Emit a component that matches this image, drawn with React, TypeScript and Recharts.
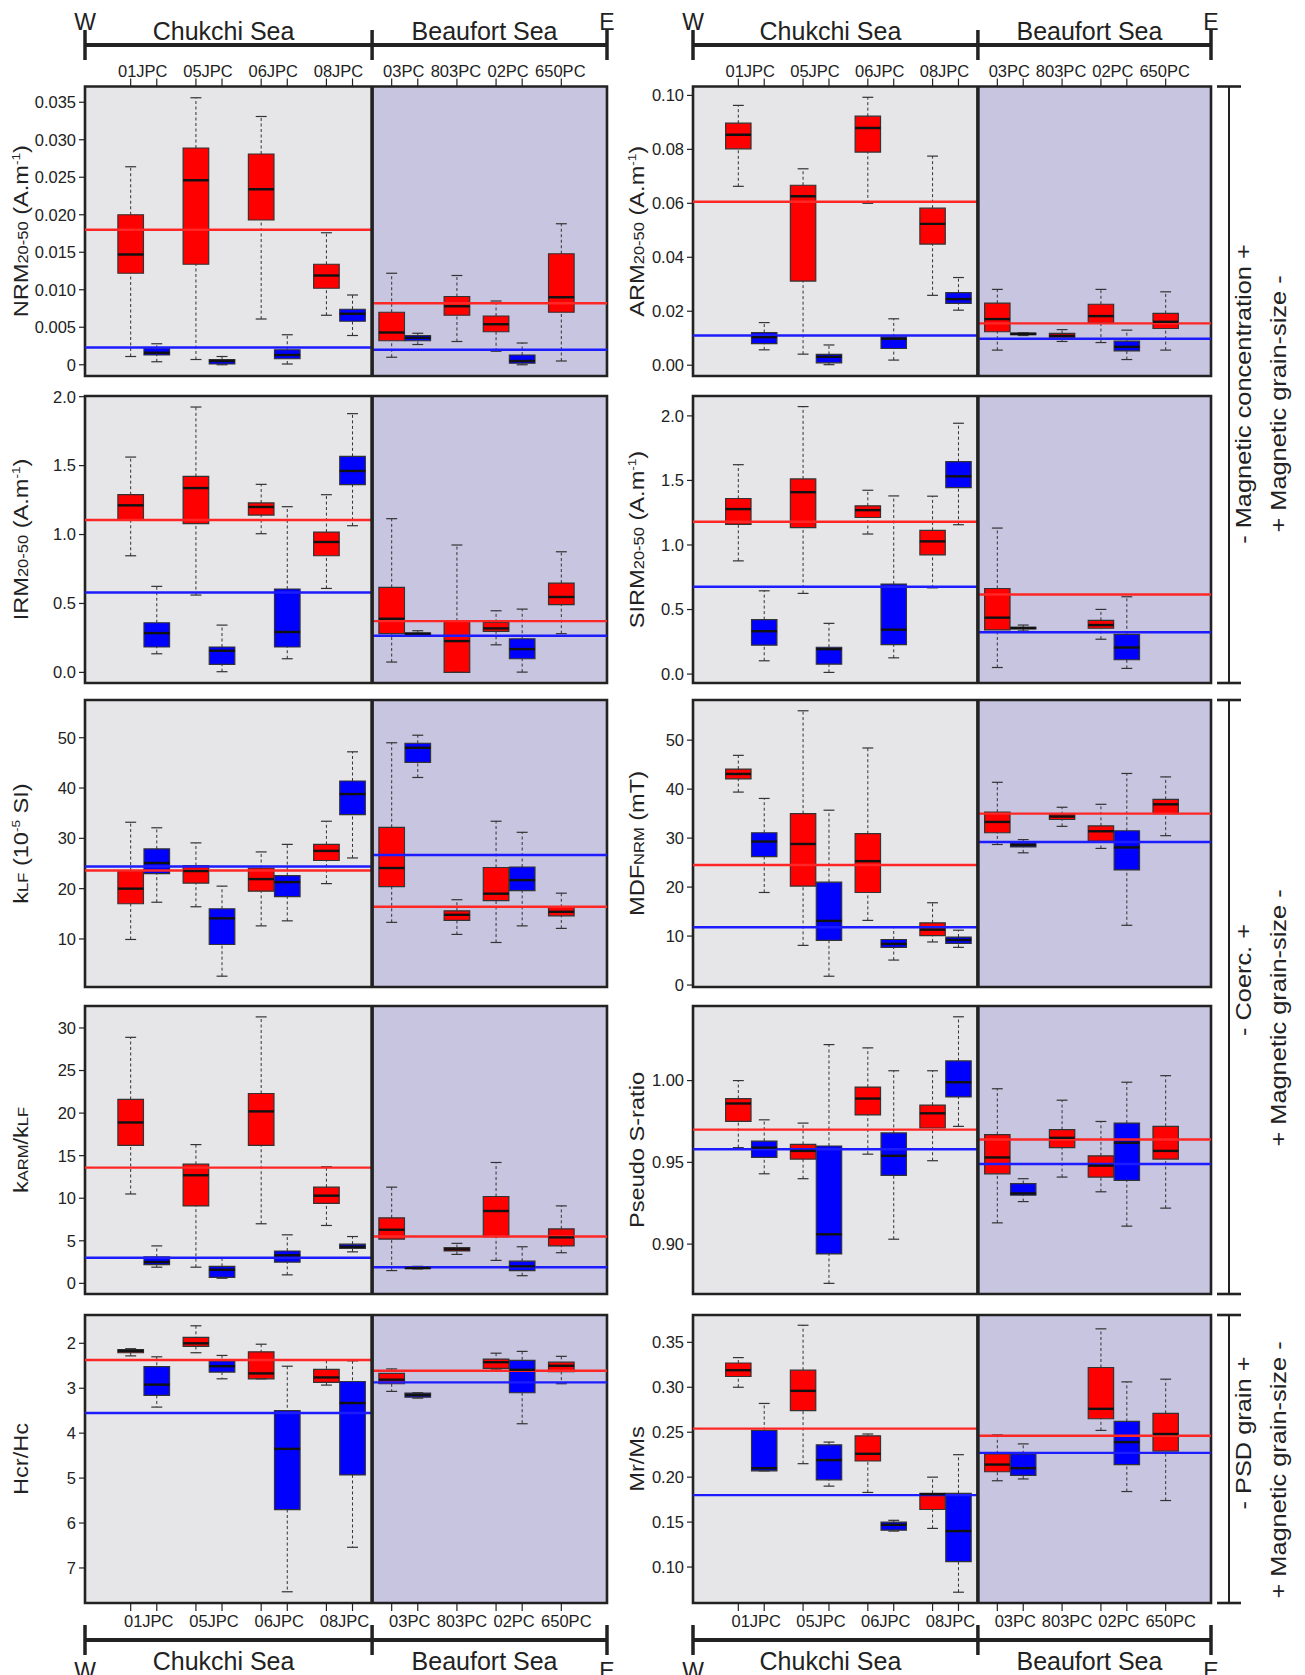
import { ComposedChart, XAxis, YAxis, Scatter, ReferenceArea, ReferenceLine, Label } from "recharts"

type Box = [number, number, number, number, number] | null
type TitlePart = [string, string?]

// cores along the W -> E transect
const cores = ["01JPC", "05JPC", "06JPC", "08JPC", "03PC", "803PC", "02PC", "650PC"]
// slot of each core's first box on the transect axis (0..20), second box sits one slot east
const corePos = [1.75, 4.25, 6.75, 9.25, 11.75, 14.25, 15.75, 18.25]
const coreTicks = [1.75, 2.75, 4.25, 5.25, 6.75, 7.75, 9.25, 10.25, 11.75, 12.75, 14.25, 15.75, 16.75, 18.25]
const seas = ["Chukchi Sea", "Beaufort Sea"]
const SPLIT = 11
const SPAN = 20

// box stats per core: [min, q1, median, q3, max]
// section means: [red Chukchi, red Beaufort, blue Chukchi, blue Beaufort]
const nrmRed: Box[] = [
  [0.0011, 0.0122, 0.0147, 0.02, 0.0264],
  [0.0007, 0.0134, 0.0246, 0.0289, 0.0356],
  [0.0061, 0.0193, 0.0234, 0.0281, 0.0331],
  [0.0066, 0.0102, 0.0119, 0.0134, 0.0176],
  [0.001, 0.0032, 0.0043, 0.007, 0.0122],
  [0.0031, 0.0066, 0.0078, 0.0091, 0.0119],
  [0.0018, 0.0044, 0.0054, 0.0065, 0.0085],
  [0.0005, 0.007, 0.009, 0.0148, 0.0188],
]
const nrmBlue: Box[] = [
  [0.0004, 0.0013, 0.0016, 0.0022, 0.0028],
  [0.0, 0.0001, 0.0005, 0.0007, 0.0011],
  [0.0001, 0.0008, 0.0013, 0.002, 0.004],
  [0.0039, 0.0058, 0.0068, 0.0074, 0.0093],
  [0.0027, 0.0032, 0.0036, 0.0039, 0.0042],
  null,
  [0.0, 0.0002, 0.0005, 0.0013, 0.0029],
  null,
]
const nrmMeans = [0.018, 0.0082, 0.0023, 0.002]
const nrmTicks = [0, 0.005, 0.01, 0.015, 0.02, 0.025, 0.03, 0.035]

const armRed: Box[] = [
  [0.0663, 0.0802, 0.0854, 0.0897, 0.0963],
  [0.0041, 0.0312, 0.0626, 0.0667, 0.0728],
  [0.06, 0.079, 0.0879, 0.0923, 0.0993],
  [0.0259, 0.0449, 0.0524, 0.0582, 0.0775],
  [0.0056, 0.0124, 0.0171, 0.023, 0.0281],
  [0.0088, 0.0101, 0.0109, 0.0118, 0.0132],
  [0.0084, 0.0158, 0.0182, 0.0226, 0.0281],
  [0.0056, 0.0136, 0.0161, 0.0192, 0.0272],
]
const armBlue: Box[] = [
  [0.0057, 0.008, 0.0104, 0.0121, 0.0158],
  [0.0002, 0.0009, 0.0031, 0.004, 0.0075],
  [0.0019, 0.0062, 0.0098, 0.0105, 0.0172],
  [0.0204, 0.0229, 0.0245, 0.0269, 0.0325],
  [0.011, 0.0113, 0.0116, 0.0119, 0.012],
  null,
  [0.0021, 0.0053, 0.0068, 0.0089, 0.013],
  null,
]
const armMeans = [0.0606, 0.0155, 0.011, 0.0098]
const armTicks = [0, 0.02, 0.04, 0.06, 0.08, 0.1]

const irmRed: Box[] = [
  [0.846, 1.108, 1.212, 1.289, 1.562],
  [0.561, 1.079, 1.337, 1.422, 1.925],
  [1.006, 1.141, 1.2, 1.229, 1.364],
  [0.609, 0.846, 0.946, 1.018, 1.289],
  [0.075, 0.281, 0.389, 0.617, 1.115],
  [0.0, 0.0, 0.227, 0.372, 0.924],
  [0.2, 0.297, 0.319, 0.363, 0.447],
  [0.281, 0.491, 0.547, 0.648, 0.875],
]
const irmBlue: Box[] = [
  [0.135, 0.184, 0.285, 0.36, 0.624],
  [0.005, 0.058, 0.157, 0.184, 0.343],
  [0.099, 0.184, 0.293, 0.605, 1.202],
  [1.064, 1.362, 1.461, 1.567, 1.877],
  [0.261, 0.266, 0.281, 0.285, 0.302],
  null,
  [0.002, 0.099, 0.169, 0.244, 0.459],
  null,
]
const irmMeans = [1.105, 0.372, 0.58, 0.266]
const irmTicks = [0, 0.5, 1, 1.5, 2]

const sirmRed: Box[] = [
  [0.877, 1.159, 1.278, 1.36, 1.622],
  [0.625, 1.134, 1.409, 1.512, 2.072],
  [1.085, 1.213, 1.27, 1.303, 1.424],
  [0.668, 0.923, 1.028, 1.113, 1.378],
  [0.051, 0.342, 0.437, 0.663, 1.131],
  null,
  [0.27, 0.355, 0.38, 0.416, 0.501],
  null,
]
const sirmBlue: Box[] = [
  [0.103, 0.224, 0.332, 0.422, 0.645],
  [0.013, 0.077, 0.193, 0.208, 0.393],
  [0.126, 0.229, 0.344, 0.697, 1.38],
  [1.157, 1.445, 1.532, 1.645, 1.943],
  [0.334, 0.35, 0.357, 0.362, 0.38],
  null,
  [0.044, 0.111, 0.206, 0.308, 0.599],
  null,
]
const sirmMeans = [1.18, 0.617, 0.676, 0.324]
const sirmTicks = [0, 0.5, 1, 1.5, 2]

const klfRed: Box[] = [
  [9.9, 17.0, 20.0, 23.6, 33.2],
  [16.4, 21.1, 23.5, 24.6, 29.1],
  [12.6, 19.5, 21.9, 24.1, 27.3],
  [21.0, 25.6, 27.5, 28.8, 33.4],
  [13.3, 20.4, 24.1, 32.2, 49.0],
  [10.9, 13.7, 14.8, 15.6, 17.8],
  [9.3, 17.6, 19.0, 24.2, 33.4],
  [12.1, 14.6, 15.4, 16.3, 19.1],
]
const klfBlue: Box[] = [
  [17.3, 23.0, 25.1, 27.9, 32.1],
  [2.6, 8.9, 14.1, 16.0, 20.5],
  [13.6, 18.4, 21.3, 22.6, 28.8],
  [26.1, 34.7, 38.8, 41.4, 47.2],
  [42.1, 45.1, 48.0, 48.9, 50.5],
  null,
  [12.6, 19.6, 21.7, 24.3, 31.2],
  null,
]
const klfMeans = [23.6, 16.4, 24.4, 26.7]
const klfTicks = [10, 20, 30, 40, 50]

const mdfRed: Box[] = [
  [39.4, 42.1, 43.1, 44.1, 46.9],
  [8.1, 20.2, 28.8, 35.0, 56.0],
  [13.2, 18.9, 25.3, 30.9, 48.4],
  [8.8, 10.1, 11.3, 12.7, 16.8],
  [28.7, 31.1, 33.3, 35.3, 41.4],
  [32.4, 33.8, 34.4, 34.8, 36.3],
  [27.9, 29.4, 31.4, 32.5, 36.9],
  [30.5, 35.0, 36.9, 37.9, 42.5],
]
const mdfBlue: Box[] = [
  [18.9, 26.2, 29.3, 31.1, 38.1],
  [1.8, 9.1, 13.1, 21.0, 35.7],
  [5.1, 7.7, 8.4, 9.3, 11.9],
  [7.7, 8.5, 9.2, 9.8, 11.2],
  [27.0, 28.2, 28.6, 29.0, 29.7],
  null,
  [12.2, 23.5, 28.1, 31.5, 43.2],
  null,
]
const mdfMeans = [24.5, 35.0, 11.8, 29.2]
const mdfTicks = [0, 10, 20, 30, 40, 50]

const karmRed: Box[] = [
  [10.5, 16.2, 18.9, 21.6, 28.9],
  [1.9, 9.1, 12.7, 14.0, 16.3],
  [7.0, 16.2, 20.2, 22.3, 31.3],
  [6.8, 9.4, 10.3, 11.3, 13.7],
  [1.5, 5.2, 6.3, 7.7, 11.3],
  [3.4, 3.8, 4.0, 4.2, 4.7],
  [2.7, 5.5, 8.5, 10.2, 14.2],
  [3.6, 4.4, 5.4, 6.4, 9.1],
]
const karmBlue: Box[] = [
  [1.9, 2.2, 2.5, 3.1, 4.4],
  [0.6, 0.7, 1.6, 2.0, 3.0],
  [1.0, 2.5, 3.3, 3.8, 5.7],
  [3.7, 4.1, 4.3, 4.6, 5.5],
  [1.7, 1.75, 1.8, 1.85, 2.0],
  null,
  [0.9, 1.5, 2.0, 2.6, 4.3],
  null,
]
const karmMeans = [13.6, 5.5, 3.0, 1.9]
const karmTicks = [0, 5, 10, 15, 20, 25, 30]

const srRed: Box[] = [
  [0.959, 0.975, 0.986, 0.989, 1.0],
  [0.94, 0.952, 0.957, 0.961, 0.974],
  [0.955, 0.979, 0.989, 0.996, 1.02],
  [0.951, 0.971, 0.98, 0.985, 1.006],
  [0.913, 0.943, 0.953, 0.967, 0.995],
  [0.941, 0.959, 0.965, 0.97, 0.988],
  [0.932, 0.941, 0.948, 0.954, 0.975],
  [0.922, 0.952, 0.957, 0.972, 1.003],
]
const srBlue: Box[] = [
  [0.943, 0.953, 0.959, 0.963, 0.976],
  [0.876, 0.894, 0.906, 0.96, 1.022],
  [0.903, 0.942, 0.954, 0.968, 1.006],
  [0.972, 0.99, 0.999, 1.012, 1.039],
  [0.926, 0.93, 0.931, 0.937, 0.94],
  null,
  [0.911, 0.939, 0.962, 0.974, 0.999],
  null,
]
const srMeans = [0.970, 0.964, 0.958, 0.949]
const srTicks = [0.9, 0.95, 1.0]

const hcrRed: Box[] = [
  [2.12, 2.14, 2.17, 2.21, 2.28],
  [1.61, 1.87, 2.0, 2.07, 2.21],
  [2.02, 2.19, 2.67, 2.79, 2.79],
  [2.38, 2.58, 2.76, 2.87, 2.93],
  [2.57, 2.67, 2.81, 2.9, 3.07],
  null,
  [2.22, 2.35, 2.42, 2.56, 2.59],
  [2.29, 2.42, 2.5, 2.63, 2.9],
]
const hcrBlue: Box[] = [
  [2.3, 2.52, 2.92, 3.16, 3.42],
  [2.27, 2.39, 2.51, 2.64, 2.79],
  [2.51, 3.5, 4.35, 5.7, 7.53],
  [2.39, 2.85, 3.33, 4.93, 6.54],
  [3.1, 3.11, 3.15, 3.2, 3.22],
  null,
  [2.18, 2.38, 2.59, 3.1, 3.79],
  null,
]
const hcrMeans = [2.37, 2.61, 3.55, 2.87]
const hcrTicks = [2, 3, 4, 5, 6, 7]

const mrmsRed: Box[] = [
  [0.3, 0.312, 0.319, 0.327, 0.333],
  [0.215, 0.274, 0.296, 0.319, 0.369],
  [0.183, 0.218, 0.226, 0.246, 0.248],
  [0.143, 0.164, 0.181, 0.182, 0.2],
  [0.196, 0.206, 0.214, 0.226, 0.247],
  null,
  [0.252, 0.265, 0.276, 0.322, 0.365],
  [0.174, 0.229, 0.248, 0.271, 0.309],
]
const mrmsBlue: Box[] = [
  [0.207, 0.207, 0.21, 0.252, 0.282],
  [0.19, 0.197, 0.219, 0.236, 0.239],
  [0.14, 0.141, 0.147, 0.15, 0.152],
  [0.072, 0.106, 0.14, 0.182, 0.225],
  [0.198, 0.202, 0.21, 0.226, 0.237],
  null,
  [0.184, 0.214, 0.239, 0.262, 0.306],
  null,
]
const mrmsMeans = [0.254, 0.246, 0.18, 0.227]
const mrmsTicks = [0.1, 0.15, 0.2, 0.25, 0.3, 0.35]

const FONT = '"Liberation Sans", Arial, Helvetica, sans-serif'
const INK = "#222"
const RED = "#ff0000"
const BLUE = "#0000ff"
const RED_MEAN = "#ff2626"
const BLUE_MEAN = "#1c1cff"
const BG = ["#e6e6e8", "#c7c5e0"]
const BOX_HALF = 0.49
const CAP_HALF = 0.21
const AXIS_H = 30
const PAD = 12
// vertical text in this figure is drawn slightly elongated along its run
const RUN_STRETCH = 1.18

const COLS = [
  { left: 0, axisW: 85, plotW: 522, titleX: 28 },
  { left: 608, axisW: 85, plotW: 518, titleX: 36 },
]
const ROWS = [
  { plotTop: 86.5, plotH: 289.5 },
  { plotTop: 396, plotH: 287 },
  { plotTop: 700, plotH: 287 },
  { plotTop: 1006, plotH: 288 },
  { plotTop: 1315, plotH: 288 },
]

const fixed = (n: number) => (v: number) => v.toFixed(n)
const amTitle = (name: string): TitlePart[] => [[name], ["20-50", "sub"], [" (A.m"], ["-1", "sup"], [")"]]

const panels = [
  { id: "nrm", col: 0, row: 0, red: nrmRed, blue: nrmBlue, means: nrmMeans, ticks: nrmTicks, domain: [-0.0015, 0.0371], fmt: (v: number) => (v === 0 ? "0" : v.toFixed(3)), title: amTitle("NRM") },
  { id: "arm", col: 1, row: 0, red: armRed, blue: armBlue, means: armMeans, ticks: armTicks, domain: [-0.004, 0.1033], fmt: fixed(2), title: amTitle("ARM") },
  { id: "irm", col: 0, row: 1, red: irmRed, blue: irmBlue, means: irmMeans, ticks: irmTicks, domain: [-0.077, 2.005], fmt: fixed(1), title: amTitle("IRM") },
  { id: "sirm", col: 1, row: 1, red: sirmRed, blue: sirmBlue, means: sirmMeans, ticks: sirmTicks, domain: [-0.069, 2.154], fmt: fixed(1), title: amTitle("SIRM") },
  { id: "klf", col: 0, row: 2, red: klfRed, blue: klfBlue, means: klfMeans, ticks: klfTicks, domain: [0.45, 57.5], fmt: String, title: [["k"], ["LF", "sub"], [" (10"], ["-5", "sup"], [" SI)"]] as TitlePart[] },
  { id: "mdf", col: 1, row: 2, red: mdfRed, blue: mdfBlue, means: mdfMeans, ticks: mdfTicks, domain: [-0.4, 58.2], fmt: String, title: [["MDF"], ["NRM", "sub"], [" (mT)"]] as TitlePart[] },
  { id: "karm", col: 0, row: 3, red: karmRed, blue: karmBlue, means: karmMeans, ticks: karmTicks, domain: [-1.25, 32.58], fmt: String, title: [["k"], ["ARM", "sub"], ["/k"], ["LF", "sub"]] as TitlePart[] },
  { id: "sr", col: 1, row: 3, red: srRed, blue: srBlue, means: srMeans, ticks: srTicks, domain: [0.8695, 1.0456], fmt: fixed(2), title: [["Pseudo S-ratio"]] as TitlePart[] },
  { id: "hcr", col: 0, row: 4, red: hcrRed, blue: hcrBlue, means: hcrMeans, ticks: hcrTicks, domain: [1.37, 7.78], fmt: String, title: [["Hcr/Hc"]] as TitlePart[], reversed: true },
  { id: "mrms", col: 1, row: 4, red: mrmsRed, blue: mrmsBlue, means: mrmsMeans, ticks: mrmsTicks, domain: [0.06, 0.3804], fmt: fixed(2), title: [["Mr/Ms"]] as TitlePart[] },
]

function AxisTitle({ parts, x, y }: { parts: TitlePart[]; x: number; y: number }) {
  let shift = 0
  return (
    <text transform={`translate(${x},${y}) rotate(-90) scale(${RUN_STRETCH},1)`} textAnchor="middle" fontSize={20} fill={INK} fontFamily={FONT}>
      {parts.map(([t, kind], i) => {
        const target = kind === "sup" ? -8 : 0
        const dy = target - shift
        shift = target
        const size = kind === "sub" ? 14 : kind === "sup" ? 11.5 : 20
        return (
          <tspan key={i} dy={dy} fontSize={size}>
            {t}
          </tspan>
        )
      })}
    </text>
  )
}

const coreTick = (side: "top" | "bottom", pxPerUnit: number) => (p: any) => {
  const v = p.payload.value
  const i = corePos.indexOf(v)
  if (i < 0) return <g />
  const paired = coreTicks.includes(v + 1)
  const x = p.x + (paired ? pxPerUnit / 2 : 0) + (side === "top" ? -1 : 5)
  const y = side === "top" ? p.y : p.y + 14
  return (
    <text x={x} y={y} textAnchor="middle" fontSize={16.5} fill={INK} fontFamily={FONT}>
      {cores[i]}
    </text>
  )
}

function BoxPanel({ spec }: { spec: (typeof panels)[number] }) {
  const col = COLS[spec.col]
  const row = ROWS[spec.row]
  const isTop = spec.row === 0
  const isBottom = spec.row === ROWS.length - 1
  const chartTop = isTop ? 0 : row.plotTop - PAD
  const marginTop = isTop ? row.plotTop - AXIS_H : PAD
  const height = row.plotTop - chartTop + row.plotH + (isBottom ? AXIS_H : 0) + PAD
  const width = col.axisW + col.plotW + PAD
  const pxPerUnit = col.plotW / SPAN
  const [lo, hi] = spec.domain

  const boxes = [
    ...spec.red.map((b, i) => ({ b, x: corePos[i], fill: RED })),
    ...spec.blue.map((b, i) => ({ b, x: corePos[i] + 1, fill: BLUE })),
  ].filter((d) => d.b !== null) as { b: [number, number, number, number, number]; x: number; fill: string }[]

  const medians = boxes.map((d) => ({ x: d.x, y: d.b[2] }))
  const [redC, redB, blueC, blueB] = spec.means
  const meanSegs = [
    { y: redC, x1: 0, x2: SPLIT, c: RED_MEAN },
    { y: redB, x1: SPLIT, x2: SPAN, c: RED_MEAN },
    { y: blueC, x1: 0, x2: SPLIT, c: BLUE_MEAN },
    { y: blueB, x1: SPLIT, x2: SPAN, c: BLUE_MEAN },
  ]
  const titleY = row.plotTop - chartTop + row.plotH / 2
  const halfPx = BOX_HALF * pxPerUnit

  return (
    <div style={{ position: "absolute", left: col.left, top: chartTop }}>
      <ComposedChart width={width} height={height} margin={{ top: marginTop, right: PAD, bottom: PAD, left: 0 }}>
        {isTop || isBottom ? (
          <XAxis
            type="number"
            dataKey="x"
            domain={[0, SPAN]}
            allowDataOverflow
            ticks={coreTicks}
            interval={0}
            orientation={isTop ? "top" : "bottom"}
            height={AXIS_H}
            tickSize={8}
            axisLine={false}
            tickLine={{ stroke: INK, strokeWidth: 1.2 }}
            tick={coreTick(isTop ? "top" : "bottom", pxPerUnit)}
          />
        ) : (
          <XAxis type="number" dataKey="x" domain={[0, SPAN]} allowDataOverflow hide />
        )}
        <YAxis
          type="number"
          dataKey="y"
          domain={[lo, hi]}
          allowDataOverflow
          reversed={!!(spec as any).reversed}
          ticks={spec.ticks}
          interval={0}
          tickFormatter={spec.fmt}
          width={col.axisW}
          tickSize={6}
          tickMargin={3}
          axisLine={false}
          tickLine={{ stroke: INK, strokeWidth: 1.2 }}
          tick={{ fill: INK, fontSize: 16.5, fontFamily: FONT }}
        >
          <Label content={() => <AxisTitle parts={spec.title} x={col.titleX} y={titleY} />} />
        </YAxis>

        <ReferenceArea x1={0} x2={SPLIT} fill={BG[0]} fillOpacity={1} stroke="none" ifOverflow="visible" />
        <ReferenceArea x1={SPLIT} x2={SPAN} fill={BG[1]} fillOpacity={1} stroke="none" ifOverflow="visible" />

        {boxes.map((d, i) => (
          <ReferenceArea
            key={`box${i}`}
            x1={d.x - BOX_HALF}
            x2={d.x + BOX_HALF}
            y1={d.b[1]}
            y2={d.b[3]}
            fill={d.fill}
            fillOpacity={1}
            stroke="#333"
            strokeWidth={1.2}
            ifOverflow="visible"
          />
        ))}

        <ReferenceArea x1={0} x2={SPAN} fill="none" stroke={INK} strokeWidth={2.6} ifOverflow="visible" />

        {boxes.flatMap((d, i) => [
          <ReferenceLine key={`wu${i}`} segment={[{ x: d.x, y: d.b[3] }, { x: d.x, y: d.b[4] }]} stroke="#333" strokeWidth={1} strokeDasharray="3 2.5" ifOverflow="visible" />,
          <ReferenceLine key={`wl${i}`} segment={[{ x: d.x, y: d.b[0] }, { x: d.x, y: d.b[1] }]} stroke="#333" strokeWidth={1} strokeDasharray="3 2.5" ifOverflow="visible" />,
          <ReferenceLine key={`cu${i}`} segment={[{ x: d.x - CAP_HALF, y: d.b[4] }, { x: d.x + CAP_HALF, y: d.b[4] }]} stroke="#333" strokeWidth={1.2} ifOverflow="visible" />,
          <ReferenceLine key={`cl${i}`} segment={[{ x: d.x - CAP_HALF, y: d.b[0] }, { x: d.x + CAP_HALF, y: d.b[0] }]} stroke="#333" strokeWidth={1.2} ifOverflow="visible" />,
        ])}

        {meanSegs.map((m, i) => (
          <ReferenceLine key={`mean${i}`} segment={[{ x: m.x1, y: m.y }, { x: m.x2, y: m.y }]} stroke={m.c} strokeWidth={2.4} ifOverflow="visible" />
        ))}

        <ReferenceLine x={SPLIT} stroke={INK} strokeWidth={3.6} ifOverflow="visible" />

        <Scatter
          data={medians}
          isAnimationActive={false}
          shape={(p: any) => <line x1={p.cx - halfPx} x2={p.cx + halfPx} y1={p.cy} y2={p.cy} stroke="#111" strokeWidth={2.4} />}
        />
      </ComposedChart>
    </div>
  )
}

function TransectBar({ L, D, R, lineY, tickTop, tickBot, letterY, seaY }: { L: number; D: number; R: number; lineY: number; tickTop: number; tickBot: number; letterY: number; seaY: number }) {
  return (
    <g fill={INK} fontFamily={FONT}>
      <line x1={L} x2={R} y1={lineY} y2={lineY} stroke={INK} strokeWidth={4} />
      {[L, D, R].map((x) => (
        <line key={x} x1={x} x2={x} y1={tickTop} y2={tickBot} stroke={INK} strokeWidth={3.5} />
      ))}
      <text x={L} y={letterY} textAnchor="middle" fontSize={23}>W</text>
      <text x={R} y={letterY} textAnchor="middle" fontSize={23}>E</text>
      <text x={(L + D) / 2 - 5} y={seaY} textAnchor="middle" fontSize={25}>{seas[0]}</text>
      <text x={(D + R) / 2 - 5} y={seaY} textAnchor="middle" fontSize={25}>{seas[1]}</text>
    </g>
  )
}

function SideNote({ top, bottom, first, second, c1, c2 }: { top: number; bottom: number; first: string; second: string; c1: number; c2: number }) {
  const note = (x: number, y: number, t: string) => (
    <text transform={`translate(${x},${y}) rotate(-90) scale(${RUN_STRETCH},1)`} textAnchor="middle" fontSize={21.5} fill={INK} fontFamily={FONT}>
      {t}
    </text>
  )
  return (
    <g>
      <line x1={1229} x2={1229} y1={top} y2={bottom} stroke={INK} strokeWidth={2} />
      <line x1={1217} x2={1241} y1={top} y2={top} stroke={INK} strokeWidth={2.6} />
      <line x1={1217} x2={1241} y1={bottom} y2={bottom} stroke={INK} strokeWidth={2.6} />
      {note(1251, c1, first)}
      {note(1286, c2, second)}
    </g>
  )
}

function Decorations() {
  const bars = COLS.map((c) => {
    const L = c.left + c.axisW
    return { L, D: L + (c.plotW * SPLIT) / SPAN, R: L + c.plotW }
  })
  return (
    <svg width={1305} height={1675} style={{ position: "absolute", left: 0, top: 0, pointerEvents: "none" }}>
      {bars.map((b, i) => (
        <g key={i}>
          <TransectBar {...b} lineY={45} tickTop={30} tickBot={60} letterY={30} seaY={40} />
          <TransectBar {...b} lineY={1640} tickTop={1625} tickBot={1655} letterY={1679} seaY={1670} />
        </g>
      ))}
      <SideNote top={86.5} bottom={683} first="- Magnetic concentration +" second="+ Magnetic grain-size -" c1={394} c2={404} />
      <SideNote top={700} bottom={1294} first="- Coerc. +" second="+ Magnetic grain-size -" c1={980} c2={1018} />
      <SideNote top={1315} bottom={1603} first="- PSD grain +" second="+ Magnetic grain-size -" c1={1433} c2={1470} />
    </svg>
  )
}

export default function App() {
  return (
    <div style={{ position: "absolute", left: 0, top: 0, width: 1305, height: 1675, background: "#fff", fontFamily: FONT }}>
      {panels.map((spec) => (
        <BoxPanel key={spec.id} spec={spec} />
      ))}
      <Decorations />
    </div>
  )
}
